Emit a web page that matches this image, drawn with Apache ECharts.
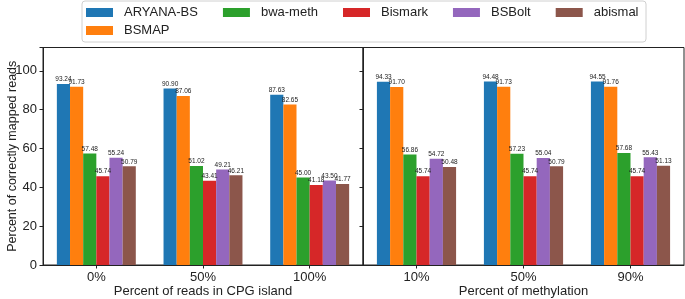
<!DOCTYPE html>
<html>
<head>
<meta charset="utf-8">
<script src="https://cdn.jsdelivr.net/npm/echarts@6/dist/echarts.min.js"></script>
<style>
  html, body { margin: 0; padding: 0; background: #fff; }
  #chart { width: 685px; height: 299px; }
</style>
</head>
<body>
<div id="chart"></div>
<script>
// categories
var cpgLabels = ['0%', '50%', '100%'];
var methLabels = ['10%', '50%', '90%'];
var tools = ['ARYANA-BS', 'BSMAP', 'bwa-meth', 'Bismark', 'BSBolt', 'abismal'];
var colors = ['#1f77b4', '#ff7f0e', '#2ca02c', '#d62728', '#9467bd', '#8c564b'];

// percent of correctly mapped reads, by percent of reads in CPG island
var cpgAryana = [93.24, 90.90, 87.63];
var cpgBsmap = [91.73, 87.06, 82.65];
var cpgBwameth = [57.48, 51.02, 45.00];
var cpgBismark = [45.74, 43.41, 41.18];
var cpgBsbolt = [55.24, 49.21, 43.50];
var cpgAbismal = [50.79, 46.21, 41.77];

// by percent of methylation
var methAryana = [94.33, 94.48, 94.55];
var methBsmap = [91.70, 91.73, 91.76];
var methBwameth = [56.86, 57.23, 57.68];
var methBismark = [45.74, 45.74, 45.74];
var methBsbolt = [54.72, 55.04, 55.43];
var methAbismal = [50.48, 50.79, 51.13];

var yTicks = [0, 20, 40, 60, 80, 100];

var cpgData = [cpgAryana, cpgBsmap, cpgBwameth, cpgBismark, cpgBsbolt, cpgAbismal];
var methData = [methAryana, methBsmap, methBwameth, methBismark, methBsbolt, methAbismal];

var font = 'Liberation Sans, Arial, sans-serif';
var ink = '#222';

var chart = echarts.init(document.getElementById('chart'), null, { renderer: 'canvas' });

function makeSeries(data, idx) {
  return data.map(function (vals, i) {
    return {
      name: tools[i],
      type: 'bar',
      xAxisIndex: idx,
      yAxisIndex: idx,
      data: vals,
      barGap: '0%',
      barCategoryGap: '26%',
      itemStyle: { color: colors[i] },
      label: {
        show: true,
        position: 'top',
        distance: 1,
        fontSize: 6.5,
        fontFamily: font,
        color: ink,
        formatter: function (p) { return p.value.toFixed(2); }
      },
      animation: false
    };
  });
}

function xAxis(idx, cats, name) {
  return {
    type: 'category',
    gridIndex: idx,
    data: cats,
    name: name,
    nameLocation: 'middle',
    nameGap: 20,
    nameMoveOverlap: false,
    nameTextStyle: { fontSize: 13, fontFamily: font, color: ink },
    axisLine: { show: true, lineStyle: { color: ink, width: 1 } },
    axisTick: { show: true, alignWithLabel: true, length: 3.5, lineStyle: { color: ink } },
    axisLabel: { fontSize: 13, fontFamily: font, color: ink, margin: 6 },
    splitLine: { show: false }
  };
}

function yAxis(idx, showLabels) {
  return {
    type: 'value',
    gridIndex: idx,
    min: 0,
    max: 112,
    interval: 20,
    name: showLabels ? 'Percent of correctly mapped reads' : '',
    nameLocation: 'middle',
    nameGap: 24,
    nameMoveOverlap: false,
    nameTextStyle: { fontSize: 12.5, fontFamily: font, color: ink },
    axisLine: { show: true, lineStyle: { color: ink, width: 1 } },
    axisTick: { show: true, length: 3.5, lineStyle: { color: ink } },
    axisLabel: {
      show: showLabels,
      fontSize: 13,
      fontFamily: font,
      color: ink,
      margin: 6,
      formatter: function (v) { return yTicks.indexOf(v) >= 0 ? String(v) : ''; }
    },
    splitLine: { show: false }
  };
}

var legendBase = {
  itemWidth: 27,
  itemHeight: 9,
  itemGap: 25,
  icon: 'rect',
  textStyle: { fontSize: 13, fontFamily: font, color: ink, padding: [0, 0, 0, 6] },
  selectedMode: false
};

var option = {
  animation: false,
  backgroundColor: '#fff',
  graphic: [{
    type: 'rect',
    z: -1,
    shape: { x: 82, y: 1, width: 564, height: 41, r: 3 },
    style: { fill: '#fff', stroke: '#d0d0d0', lineWidth: 1 }
  }],
  legend: [
    Object.assign({}, legendBase, {
      left: 81, top: 1,
      data: ['ARYANA-BS', 'bwa-meth', 'Bismark', 'BSBolt', 'abismal']
    }),
    Object.assign({}, legendBase, {
      left: 81, top: 19,
      data: ['BSMAP']
    })
  ],
  grid: [
    { left: 43, right: 322, top: 47.5, bottom: 34, outerBoundsMode: 'none', show: true, borderColor: ink, borderWidth: 1, backgroundColor: 'transparent' },
    { left: 363, right: 1, top: 47.5, bottom: 34, outerBoundsMode: 'none', show: true, borderColor: ink, borderWidth: 1, backgroundColor: 'transparent' }
  ],
  xAxis: [
    xAxis(0, cpgLabels, 'Percent of reads in CPG island'),
    xAxis(1, methLabels, 'Percent of methylation')
  ],
  yAxis: [yAxis(0, true), yAxis(1, false)],
  series: makeSeries(cpgData, 0).concat(makeSeries(methData, 1))
};

chart.setOption(option);
</script>
</body>
</html>
